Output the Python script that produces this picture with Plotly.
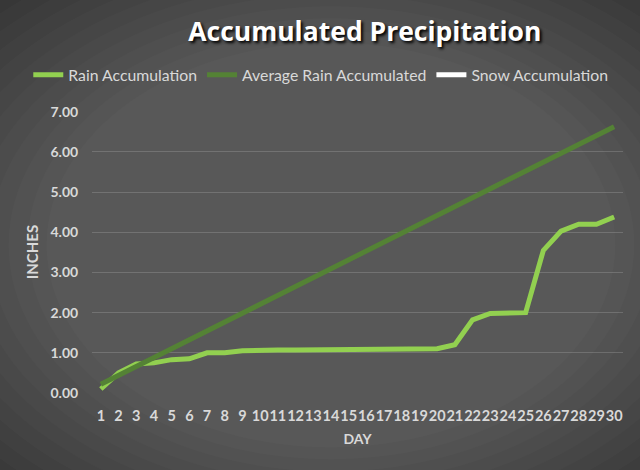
import plotly.graph_objects as go

days = [str(d) for d in range(1, 31)]
rain = [0.10, 0.50, 0.72, 0.75, 0.83, 0.85, 1.00, 1.00, 1.05, 1.07,
        1.07, 1.07, 1.07, 1.07, 1.07, 1.10, 1.10, 1.10, 1.10, 1.10,
        1.20, 1.82, 1.98, 2.00, 2.00, 3.55, 4.03, 4.20, 4.20, 4.38]
avg_rain = [0.22, 0.44, 0.66, 0.88, 1.10, 1.33, 1.55, 1.77, 1.99, 2.21,
            2.43, 2.65, 2.87, 3.09, 3.31, 3.54, 3.76, 3.98, 4.20, 4.42,
            4.64, 4.86, 5.08, 5.30, 5.52, 5.75, 5.97, 6.19, 6.41, 6.63]
snow = [None] * 30
y_ticks = [0, 1, 2, 3, 4, 5, 6, 7]

FONT = "Lato"
TXT = "#d9d9d9"

fig = go.Figure()
fig.add_trace(go.Scatter(x=days, y=rain, mode="lines", name="Rain Accumulation",
                         line=dict(color="#92d050", width=5)))
fig.add_trace(go.Scatter(x=days, y=avg_rain, mode="lines", name="Average Rain Accumulated",
                         line=dict(color="#548235", width=5)))
fig.add_trace(go.Scatter(x=days, y=snow, mode="lines", name="Snow Accumulation",
                         line=dict(color="#ffffff", width=5)))

# radial-ish gradient background made of stacked translucent ellipses
shapes = []
for i in range(14):
    k = i / 14
    shapes.append(dict(type="circle", xref="paper", yref="paper", layer="below",
                       x0=-0.55 + 0.5 * k, x1=1.45 - 0.5 * k,
                       y0=-0.75 + 0.6 * k, y1=1.8 - 0.6 * k,
                       line=dict(width=0), fillcolor="rgba(255,255,255,0.018)"))

fig.update_layout(
    width=640, height=470,
    margin=dict(l=92, r=17, t=111, b=77),
    paper_bgcolor="#2b2b2b",
    plot_bgcolor="rgba(0,0,0,0)",
    shapes=shapes,
    font=dict(family=FONT, color=TXT, size=13),
    title=dict(text="<b>Accumulated Precipitation</b>", x=0.57, xanchor="center",
               y=0.932, yanchor="middle",
               font=dict(family="Open Sans", size=26.5, color="#ffffff",
                         shadow="2px 2px 3px #000000")),
    legend=dict(orientation="h", x=-0.12, xanchor="left", y=1.128, yanchor="middle",
                font=dict(family=FONT, size=15.8, color=TXT),
                bgcolor="rgba(0,0,0,0)", itemwidth=30, tracegroupgap=0),
    showlegend=True,
)
fig.update_xaxes(type="category", range=[-0.5, 29.5], tickangle=0,
                 showgrid=False, showline=False,
                 ticks="outside", ticklen=10, tickcolor="rgba(0,0,0,0)",
                 tickfont=dict(family=FONT, size=14.5, color=TXT, weight="bold"),
                 title=dict(text="<b>DAY</b>", font=dict(family=FONT, size=14, color=TXT),
                            standoff=10))
fig.update_yaxes(range=[0, 7.02], tickvals=y_ticks, tickformat=".2f",
                 showgrid=True, gridcolor="rgba(255,255,255,0.16)", gridwidth=1,
                 zeroline=False, showline=False,
                 ticks="outside", ticklen=10, tickcolor="rgba(0,0,0,0)",
                 tickfont=dict(family=FONT, size=14, color=TXT, weight="bold"),
                 title=dict(text="<b>INCHES</b>", font=dict(family=FONT, size=15, color=TXT),
                            standoff=8))

fig.write_html("out.html", config={"displayModeBar": False},
               post_script="document.body.style.margin='0';")
